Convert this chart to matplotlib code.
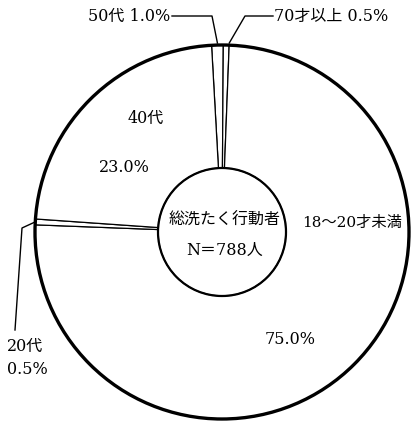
import numpy as np
import matplotlib
matplotlib.use("Agg")
import matplotlib.pyplot as plt
from matplotlib.patches import Circle

plt.rcParams['font.family'] = ['DejaVu Serif', 'Noto Sans CJK JP']

# Age groups, listed clockwise starting just left of 12 o'clock
groups = ['50代', '70才以上', '18〜20才未満', '20代', '40代']
shares = [1.0, 0.5, 75.0, 0.5, 23.0]
center_title = '総洗たく行動者'
center_n = 'N＝788人'

W, H = 412, 424
fig = plt.figure(figsize=(W / 100, H / 100), dpi=100)
ax = fig.add_axes([0, 0, 1, 1])

cx, cy = 222, H - 232
r_out, r_in = 187, 64
start = 93.2

wedges, _ = ax.pie(shares, startangle=start, counterclock=False,
                   center=(cx, cy), radius=r_out,
                   wedgeprops=dict(width=r_out - r_in, facecolor='white',
                                   edgecolor='black', linewidth=0.9))
ax.add_patch(Circle((cx, cy), r_out, fill=False, lw=2.4, ec='black', zorder=5))
ax.add_patch(Circle((cx, cy), r_in, fill=False, lw=1.6, ec='black', zorder=5))

ax.set_xlim(0, W)
ax.set_ylim(0, H)
ax.set_aspect('equal')
ax.axis('off')


def edge_point(w, frac=0.5):
    ang = np.deg2rad(w.theta1 + (w.theta2 - w.theta1) * frac)
    return cx + r_out * np.cos(ang), cy + r_out * np.sin(ang)


def Y(y):
    return H - y


fs = 11.5
lab = {g: f'{v:.1f}%' for g, v in zip(groups, shares)}

# 50代
x0, y0 = edge_point(wedges[0])
ax.plot([172, 212, x0], [Y(16), Y(16), y0 + 2], color='black', lw=1.0, zorder=6)
ax.text(170, Y(16), f'{groups[0]} {lab[groups[0]]}', ha='right', va='center', fontsize=fs)

# 70才以上
x1, y1 = edge_point(wedges[1])
ax.plot([273, 245, x1 + 3], [Y(16), Y(16), y1 + 2], color='black', lw=1.0, zorder=6)
ax.text(274, Y(16), f'{groups[1]} {lab[groups[1]]}', ha='left', va='center', fontsize=fs)

# 40代
ax.text(146, Y(118), groups[4], ha='center', va='center', fontsize=fs)
ax.text(124, Y(168), lab[groups[4]], ha='center', va='center', fontsize=fs)

# 18〜20才未満
ax.text(352, Y(223), groups[2], ha='center', va='center', fontsize=fs - 0.5)
ax.text(290, Y(340), lab[groups[2]], ha='center', va='center', fontsize=fs)

# 20代
x3, y3 = edge_point(wedges[3])
ax.plot([x3, 22, 15], [y3, Y(228), Y(330)], color='black', lw=1.0, zorder=6)
ax.text(7, Y(346), groups[3], ha='left', va='center', fontsize=fs)
ax.text(7, Y(369), lab[groups[3]], ha='left', va='center', fontsize=fs)

# center
ax.text(cx + 3, Y(220), center_title, ha='center', va='center', fontsize=fs)
ax.text(cx + 3, Y(250), center_n, ha='center', va='center', fontsize=fs)

fig.savefig('out.png', dpi=100, facecolor='white')
